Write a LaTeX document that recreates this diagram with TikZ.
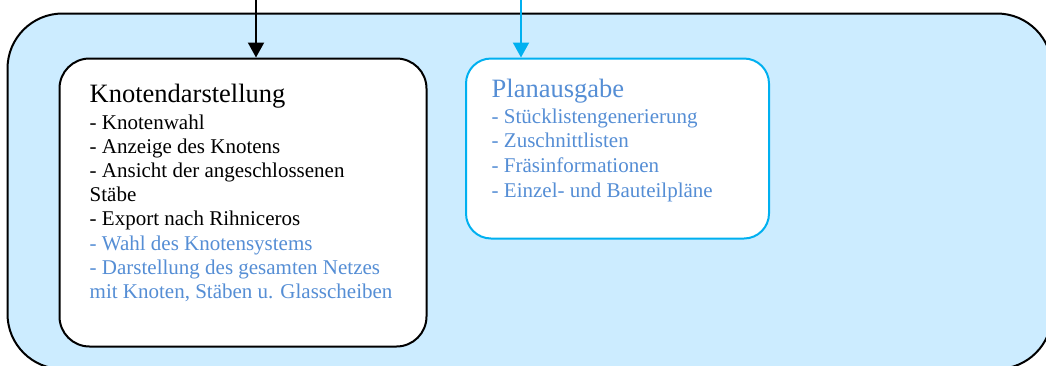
\documentclass[tikz,border=0pt]{standalone}
\usepackage{fontspec}
\setmainfont{Liberation Serif}
\usetikzlibrary{arrows.meta}
\definecolor{panelfill}{RGB}{204,236,255}
\definecolor{cyanline}{RGB}{0,176,240}
\definecolor{itemblue}{RGB}{85,142,213}

\begin{document}
\begin{tikzpicture}[x=1pt,y=-1pt,
  panel/.style={draw=black, line width=2pt, fill=panelfill, rounded corners=55pt},
  module/.style={draw=#1, line width=2pt, fill=white, anchor=north west, inner sep=0pt},
  heading/.style={anchor=base west, inner sep=0pt, font=\fontsize{26.5}{30}\selectfont},
  item/.style={anchor=base west, inner sep=0pt, font=\fontsize{21}{24}\selectfont},
  feed/.style={line width=2pt, -{Triangle[length=15pt,width=16pt]}}]
\useasboundingbox (0,0) rectangle (1046,365);

% outer panel
\draw[panel] (7.5,13.5) rectangle (1052,369);

% module boxes
\node[module=black, rounded corners=30pt, minimum width=367pt, minimum height=288pt] (knoten) at (58.5,57.5) {};
\node[module=cyanline, rounded corners=25pt, minimum width=303pt, minimum height=180pt] (plan) at (465,57.5) {};

% incoming connectors
\coordinate (kin) at (256,0);
\coordinate (pin) at (521,0);
\draw[feed, black] (kin) -- (kin |- knoten.north);
\draw[feed, cyanline] (pin) -- (pin |- plan.north);

% Knotendarstellung
\node[heading] (kt) at (89.5,102.5) {Knotendarstellung};
\node[item] (k1) at (89.5,129) {- Knotenwahl};
\node[item] (k2) at (89.5,153.2) {- Anzeige des Knotens};
\node[item] (k3) at (89.5,177.4) {- Ansicht der angeschlossenen};
\node[item] (k4) at (89.5,201.6) {Stäbe};
\node[item] (k5) at (89.5,225.8) {- Export nach Rihniceros};
\node[item, text=itemblue] (k6) at (89.5,250) {- Wahl des Knotensystems};
\node[item, text=itemblue] (k7) at (89.5,274.2) {- Darstellung des gesamten Netzes};
\node[item, text=itemblue] (k8) at (89.5,298.4) {mit Knoten, Stäben u. Glasscheiben};

% Planausgabe
\node[heading, text=itemblue] (pt) at (491.5,97.5) {Planausgabe};
\node[item, text=itemblue] (p1) at (491.5,123.3) {- Stücklistengenerierung};
\node[item, text=itemblue] (p2) at (491.5,147.9) {- Zuschnittlisten};
\node[item, text=itemblue] (p3) at (491.5,172.5) {- Fräsinformationen};
\node[item, text=itemblue] (p4) at (491.5,197.1) {- Einzel- und Bauteilpläne};
\end{tikzpicture}
\end{document}
